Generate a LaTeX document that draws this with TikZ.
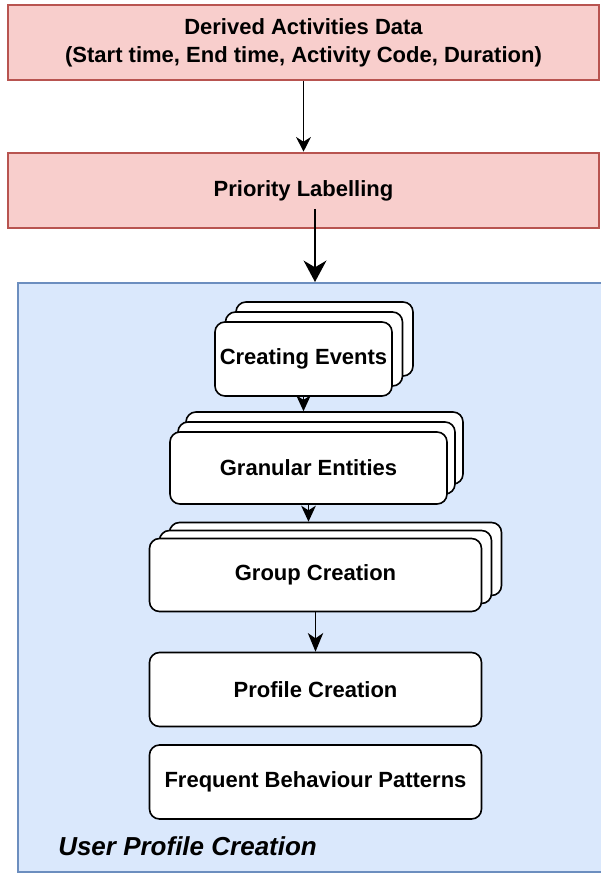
\documentclass[tikz,border=0pt]{standalone}
\usepackage{fontspec}
\setmainfont{Liberation Sans}
\usetikzlibrary{arrows.meta}
\definecolor{redfill}{HTML}{F8CECC}
\definecolor{redline}{HTML}{B85450}
\definecolor{bluefill}{HTML}{DAE8FC}
\definecolor{blueline}{HTML}{6C8EBF}

\begin{document}
\begin{tikzpicture}[x=0.75pt,y=-0.75pt,
  font=\fontsize{16.5}{21}\selectfont\bfseries,
  redbox/.style={draw=redline, fill=redfill, line width=1.9pt,
    minimum width=443.25pt, minimum height=56.25pt, inner sep=0pt, align=center},
  container/.style={draw=blueline, fill=bluefill, line width=1.5pt,
    minimum width=442.2pt, minimum height=441.75pt, inner sep=0pt},
  card/.style={draw=black, fill=white, line width=1.2pt,
    rounded corners=7.5pt, inner sep=0pt, align=center},
  ceSize/.style={minimum width=132.75pt, minimum height=55.5pt},
  geSize/.style={minimum width=207.75pt, minimum height=54pt},
  gcSize/.style={minimum width=249pt, minimum height=54.75pt},
  wideSize/.style={minimum width=249pt, minimum height=55.5pt},
  flowA/.style={line width=0.9pt, -{Stealth[length=11pt, width=11pt, inset=3.5pt]}},
  flowB/.style={line width=2.2pt, -{Stealth[length=16pt, width=17pt, inset=5pt]}},
  flowC/.style={line width=1.1pt, -{Stealth[length=12pt, width=11pt, inset=3.5pt]}},
]
\useasboundingbox (0,0) rectangle (600,873);

% input and labelling stages
\node[redbox] (src) at (303.5,42.5)
  {\rule{0pt}{2pt}Derived Activities Data\\(Start time, End time, Activity Code, Duration)};
\node[redbox] (prio) at (303.5,190.5) {Priority Labelling};

% user profile creation container
\node[container] (upc) at (313.2,577.5) {};
\node[font=\fontsize{19.5}{23}\selectfont\bfseries\itshape,
      anchor=base west, inner sep=0pt] (upcLabel) at (58,855) {User Profile Creation};

% stacked stage: creating events
\node[card, ceSize] (ceB) at (324.5,339) {};
\node[card, ceSize] (ceM) at (314,349) {};
\node[card, ceSize] (ce) at (303.5,359) {Creating Events};

% stacked stage: granular entities
\node[card, geSize] (geB) at (324.5,448) {};
\node[card, geSize] (geM) at (316.5,458) {};
\node[card, geSize] (ge) at (308.5,468) {Granular Entities};

% stacked stage: group creation
\node[card, gcSize] (gcB) at (335.5,559) {};
\node[card, gcSize] (gcM) at (325.5,567) {};
\node[card, gcSize] (gc) at (315.5,575) {Group Creation};

% single stages
\node[card, wideSize] (pc) at (315.5,689.5) {Profile Creation};
\node[card, wideSize] (fb) at (315.5,782) {Frequent Behaviour Patterns};

% connectors
\draw[flowA] (src.south) -- (prio.north);
\coordinate (prioOut) at (315,209);
\draw[flowB] (prioOut) -- (prioOut |- upc.north);
\draw[flowC] (ce.south) -- (ce.south |- geB.north);
\draw[flowC] (ge.south) -- (ge.south |- gcB.north);
\draw[flowC, -{Stealth[length=14pt, width=11.5pt, inset=4pt]}] (gc.south) -- (pc.north);
\end{tikzpicture}
\end{document}
